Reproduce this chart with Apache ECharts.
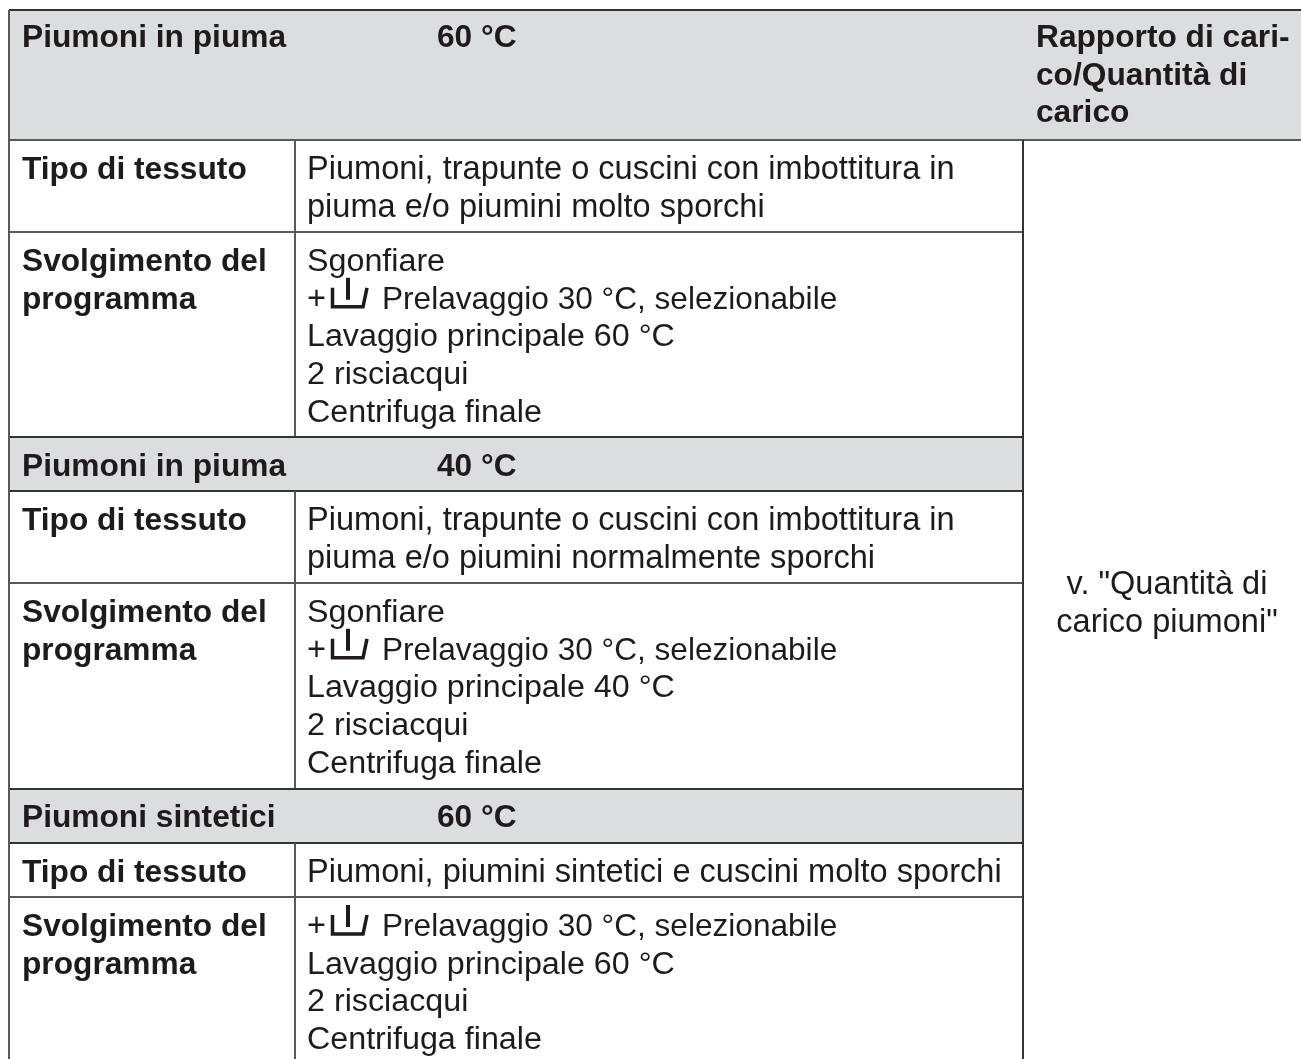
<!DOCTYPE html>
<html>
<head>
<meta charset="utf-8">
<title>Piumoni</title>
<script src="https://cdn.jsdelivr.net/npm/echarts@6/dist/echarts.min.js"></script>
<style>
  html, body { margin: 0; padding: 0; background: #fff; }
  #main { width: 1301px; height: 1059px; }
</style>
</head>
<body>
<div id="main"></div>
<script>
// testi della tabella
var headerTitles = ['Piumoni in piuma', 'Piumoni in piuma', 'Piumoni sintetici'];
var headerTemps = ['60 °C', '40 °C', '60 °C'];
var loadHeader = ['Rapporto di cari-', 'co/Quantità di', 'carico'];
var loadNote = ['v. "Quantità di', 'carico piumoni"'];
var fabricLabel = ['Tipo di tessuto'];
var programLabel = ['Svolgimento del', 'programma'];
var fabricText = [
  ['Piumoni, trapunte o cuscini con imbottitura in', 'piuma e/o piumini molto sporchi'],
  ['Piumoni, trapunte o cuscini con imbottitura in', 'piuma e/o piumini normalmente sporchi'],
  ['Piumoni, piumini sintetici e cuscini molto sporchi']
];
var programText = [
  ['Sgonfiare', '+Prelavaggio 30 °C, selezionabile', 'Lavaggio principale 60 °C', '2 risciacqui', 'Centrifuga finale'],
  ['Sgonfiare', '+Prelavaggio 30 °C, selezionabile', 'Lavaggio principale 40 °C', '2 risciacqui', 'Centrifuga finale'],
  ['+Prelavaggio 30 °C, selezionabile', 'Lavaggio principale 60 °C', '2 risciacqui', 'Centrifuga finale']
];

// geometria della pagina
var W = 1301, H = 1059;
var colA = 9, colB = 295, colC = 1023;
var headTop = [10, 437, 789];
var headBottom = [140, 491, 843];
var fabricBottom = [232, 583, 897];
var headTextY = [38, 467, 818];
var fabricY = [170, 521, 873];
var programY = [262, 613, 927];
var LINE = 37.8;
var SIZE_REG = 32.55, SIZE_PROG = 32.25, SIZE_BOLD = 31.7, SIZE_PRE = 31.6;
var FAMILY = '"Liberation Sans", Arial, sans-serif';
var INK = '#1f1b1c', RULE = '#58595b', DARK = '#333335', FILL = '#dcdddf';

function makeCells() {
  var cells = [];
  function rect(x0, y0, x1, y1) { cells.push({ kind: 'rect', x0: x0, y0: y0, x1: x1, y1: y1 }); }
  function line(x0, y0, x1, y1, c) { cells.push({ kind: 'line', x0: x0, y0: y0, x1: x1, y1: y1, c: c || RULE }); }
  function text(x, y, s, size, bold, align) { cells.push({ kind: 'text', x: x, y: y, s: s, size: size, bold: bold, align: align || 'left' }); }

  function lines(x, y, arr, size, bold, align) {
    arr.forEach(function (s, i) {
      var ly = y + i * LINE;
      if (s.charAt(0) === '+') {
        // riga con il simbolo del prelavaggio
        text(x, ly, '+', SIZE_REG, false);
        cells.push({ kind: 'icon', x: x, y: ly });
        text(x + 75, ly, s.slice(1), SIZE_PRE, false);
      } else {
        text(x, ly, s, size, bold, align);
      }
    });
  }

  rect(colA, headTop[0], W, headBottom[0]);
  rect(colA, headTop[1], colC, headBottom[1]);
  rect(colA, headTop[2], colC, headBottom[2]);

  for (var i = 0; i < 3; i++) {
    text(22, headTextY[i], headerTitles[i], SIZE_BOLD, true);
    text(437, headTextY[i], headerTemps[i], SIZE_BOLD, true);
    lines(22, fabricY[i], fabricLabel, SIZE_BOLD, true);
    lines(307, fabricY[i], fabricText[i], SIZE_REG, false);
    lines(22, programY[i], programLabel, SIZE_BOLD, true);
    lines(307, programY[i], programText[i], SIZE_PROG, false);

    line(colA, headBottom[i], i === 0 ? W : colC, headBottom[i], i === 0 ? RULE : DARK);
    line(colA, fabricBottom[i], colC, fabricBottom[i]);
    line(colB, headBottom[i], colB, i < 2 ? headTop[i + 1] : H);
    if (i > 0) line(colA, headTop[i], colC, headTop[i], DARK);
  }
  lines(1036, 38, loadHeader, SIZE_BOLD, true);
  lines(1167, 585, loadNote, SIZE_REG, false, 'center');

  line(colA, headTop[0], W, headTop[0], DARK);
  line(colA, headTop[0], colA, H);
  line(colC, headBottom[0], colC, H, DARK);
  return cells;
}

var cells = makeCells();

function renderCell(params, api) {
  var d = cells[api.value(0)];
  if (d.kind === 'rect') {
    var a = api.coord([d.x0, d.y0]), b = api.coord([d.x1, d.y1]);
    return { type: 'rect', shape: { x: a[0], y: a[1], width: b[0] - a[0], height: b[1] - a[1] }, style: { fill: FILL } };
  }
  if (d.kind === 'line') {
    var p = api.coord([d.x0, d.y0]), q = api.coord([d.x1, d.y1]);
    return { type: 'line', shape: { x1: p[0], y1: p[1], x2: q[0], y2: q[1] }, style: { stroke: d.c, lineWidth: 2 } };
  }
  if (d.kind === 'text') {
    var t = api.coord([d.x, d.y]);
    return {
      type: 'text', x: t[0], y: t[1],
      style: {
        text: d.s, fill: INK, align: d.align, verticalAlign: 'middle',
        font: (d.bold ? 'bold ' : '') + d.size + 'px ' + FAMILY
      }
    };
  }
  // simbolo prelavaggio: vaschetta con la barretta
  var o = api.coord([d.x, d.y]);
  return {
    type: 'group',
    x: o[0], y: o[1],
    children: [
      { type: 'polyline', shape: { points: [[25.5, -12], [25.5, 7], [56, 7], [60, -12]] }, style: { stroke: INK, lineWidth: 3.5, fill: null } },
      { type: 'line', shape: { x1: 41, y1: -22, x2: 41, y2: 0 }, style: { stroke: INK, lineWidth: 4 } }
    ]
  };
}

var myChart = echarts.init(document.getElementById('main'), null, { renderer: 'canvas' });
myChart.setOption({
  animation: false,
  backgroundColor: '#fff',
  grid: { left: 0, right: 0, top: 0, bottom: 0 },
  xAxis: { type: 'value', min: 0, max: W, show: false },
  yAxis: { type: 'value', min: 0, max: H, inverse: true, show: false },
  tooltip: { show: false },
  series: [{
    type: 'custom',
    coordinateSystem: 'cartesian2d',
    silent: true,
    clip: false,
    renderItem: renderCell,
    data: cells.map(function (c, i) { return [i]; }),
    encode: { x: [], y: [] }
  }]
});
</script>
</body>
</html>
